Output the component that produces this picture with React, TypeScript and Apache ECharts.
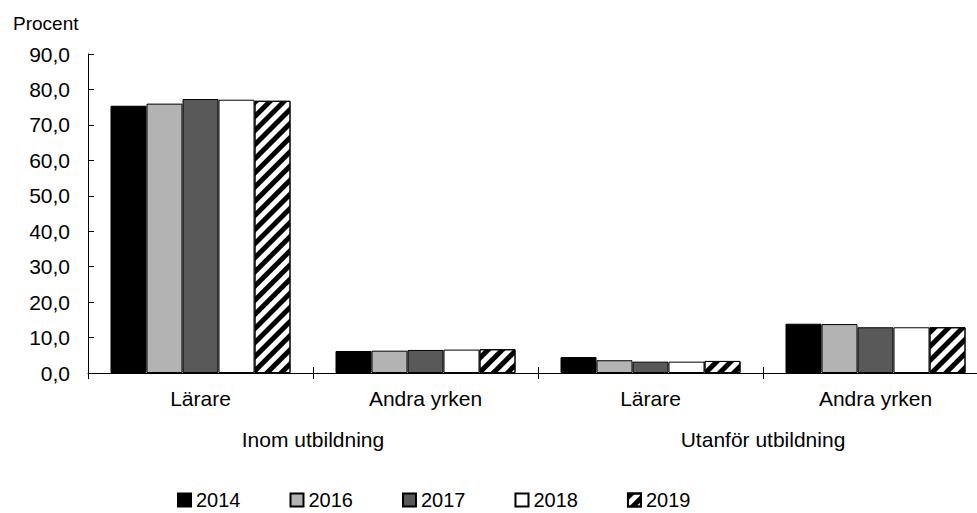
import React, { useEffect, useRef } from "react";
import * as echarts from "echarts";

const categories = ["Lärare", "Andra yrken", "Lärare", "Andra yrken"];
const groups = ["Inom utbildning", "Utanför utbildning"];
const years = ["2014", "2016", "2017", "2018", "2019"];
const v2014 = [75.4, 6.2, 4.5, 13.9];
const v2016 = [76.0, 6.3, 3.6, 13.8];
const v2017 = [77.3, 6.5, 3.2, 12.9];
const v2018 = [77.1, 6.6, 3.2, 12.9];
const v2019 = [76.8, 6.7, 3.4, 12.9];
const yTicks = { min: 0, max: 90, interval: 10 };

const FONT = "'Liberation Sans', Arial, sans-serif";
const NARROW = "'Liberation Sans Narrow', 'Arial Narrow', 'Liberation Sans', sans-serif";

export default function App() {
  const ref = useRef<HTMLDivElement>(null);
  useEffect(() => {
    document.body.style.margin = "0";
    const chart = echarts.init(ref.current!, null, { renderer: "svg" });
    const values = [v2014, v2016, v2017, v2018, v2019];
    const colors = ["#000000", "#b3b3b3", "#595959", "#ffffff", "#ffffff"];
    const series = years.map((y, i) => ({
      name: y,
      type: "bar",
      xAxisIndex: 0,
      data: values[i],
      barGap: "0%",
      barCategoryGap: "20%",
      itemStyle: {
        color: colors[i],
        borderColor: "#000",
        borderWidth: 1,
        ...(i === 4
          ? {
              decal: {
                symbol: "rect",
                symbolSize: 1,
                color: "#000",
                dashArrayX: [1, 0],
                dashArrayY: [5, 5],
                rotation: -Math.PI / 4,
              },
            }
          : {}),
      },
    }));
    chart.setOption({
      animation: false,
      textStyle: { fontFamily: FONT },
      title: {
        text: "Procent",
        left: 8,
        top: 9,
        textStyle: { fontSize: 19, fontWeight: "normal", color: "#000", fontFamily: FONT },
      },
      legend: {
        data: years,
        bottom: -2,
        left: 172,
        itemWidth: 13,
        itemHeight: 13,
        itemGap: 49,
        icon: "rect",
        textStyle: { fontSize: 20, color: "#000", fontFamily: NARROW, width: 35 },
      },
      grid: { left: 88, right: 12, top: 54, bottom: 140 },
      xAxis: [
        {
          type: "category",
          data: categories,
          axisLine: { lineStyle: { color: "#000", width: 1 } },
          axisTick: { show: true, length: 6, lineStyle: { color: "#000" } },
          axisLabel: { color: "#000", fontSize: 21, margin: 15, fontFamily: FONT },
        },
        {
          type: "category",
          data: groups,
          position: "bottom",
          axisLine: { show: false },
          axisTick: { show: false },
          axisLabel: { color: "#000", fontSize: 21, margin: 56, fontFamily: FONT },
        },
        {
          type: "category",
          data: categories,
          position: "bottom",
          axisLine: { show: false },
          axisTick: { show: true, inside: true, length: 6, lineStyle: { color: "#000" } },
          axisLabel: { show: false },
        },
      ],
      yAxis: {
        type: "value",
        min: yTicks.min,
        max: yTicks.max,
        interval: yTicks.interval,
        axisLine: { show: true, lineStyle: { color: "#000", width: 1 } },
        axisTick: { show: true, inside: true, length: 6, lineStyle: { color: "#000" } },
        splitLine: { show: false },
        axisLabel: {
          color: "#000",
          fontSize: 21,
          margin: 18,
          fontFamily: FONT,
          formatter: (v: number) => v.toFixed(1).replace(".", ","),
        },
      },
      series,
    });
    return () => chart.dispose();
  }, []);
  return (
    <div style={{ width: 977, height: 513, overflow: "hidden", position: "relative" }}>
      <div ref={ref} style={{ width: 1000, height: 513 }} />
    </div>
  );
}
